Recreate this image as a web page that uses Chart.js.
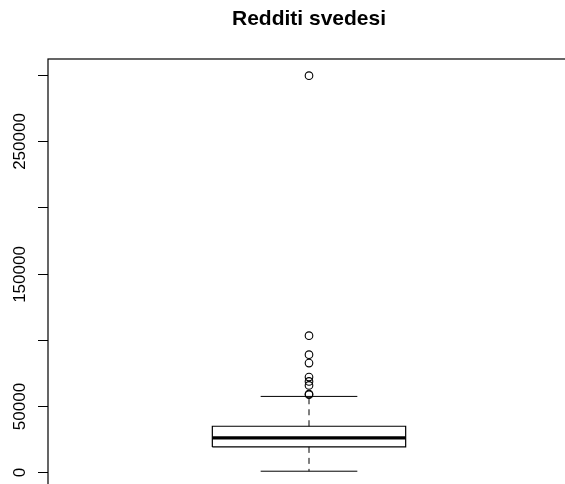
<!DOCTYPE html>
<html>
<head>
<meta charset="utf-8">
<title>Redditi svedesi</title>
<script src="https://cdn.jsdelivr.net/npm/chart.js@4.4.1/dist/chart.umd.min.js"></script>
<style>
  html, body { margin: 0; padding: 0; background: #fff; overflow: hidden; }
  #wrap { width: 565px; height: 484px; overflow: hidden; position: relative; }
  canvas { display: block; }
</style>
</head>
<body>
<div id="wrap"><canvas id="c" width="600" height="520"></canvas></div>
<script>
// Five-number summary of the incomes (whisker ends, quartiles, median)
const chartTitle = 'Redditi svedesi';
const lowerWhisker = 680;
const quartile1 = 19050;
const median = 25800;
const quartile3 = 34630;
const upperWhisker = 57170;
// Points beyond the upper whisker
const outliers = [299400, 103060, 88700, 82340, 71760, 68500, 65480, 59000, 58500];
// Y axis ticks and the labels printed next to them
const yTickValues = [0, 50000, 100000, 150000, 200000, 250000, 300000];
const yTickLabels = ['0', '50000', '', '150000', '', '250000', ''];

const center = 1;
const boxHalf = 0.2;
const capHalf = 0.1;

const boxOutline = [
  { x: center - boxHalf, y: quartile1 },
  { x: center + boxHalf, y: quartile1 },
  { x: center + boxHalf, y: quartile3 },
  { x: center - boxHalf, y: quartile3 },
  { x: center - boxHalf, y: quartile1 }
];
const medianLine = [
  { x: center - boxHalf, y: median },
  { x: center + boxHalf, y: median }
];
const upperWhiskerLine = [{ x: center, y: quartile3 }, { x: center, y: upperWhisker }];
const lowerWhiskerLine = [{ x: center, y: quartile1 }, { x: center, y: lowerWhisker }];
const upperCap = [{ x: center - capHalf, y: upperWhisker }, { x: center + capHalf, y: upperWhisker }];
const lowerCap = [{ x: center - capHalf, y: lowerWhisker }, { x: center + capHalf, y: lowerWhisker }];
const outlierPoints = outliers.map(v => ({ x: center, y: v }));

const FONT = '"Liberation Sans", Arial, Helvetica, sans-serif';

function lineSet(data, width, dash) {
  return {
    type: 'line', data, showLine: true, fill: false,
    borderColor: '#000', borderWidth: width, borderDash: dash || [],
    pointRadius: 0, pointHoverRadius: 0, tension: 0,
    borderCapStyle: 'butt', borderJoinStyle: 'miter'
  };
}

// Frame, left axis with rotated labels, and the title
const decorations = {
  id: 'decorations',
  afterDatasetsDraw(chart) {
    const { ctx, chartArea: a, scales } = chart;
    const y = scales.y;
    ctx.save();
    ctx.strokeStyle = '#000';
    ctx.lineWidth = 1.2;
    ctx.strokeRect(a.left, a.top, a.right - a.left, a.bottom - a.top);

    ctx.lineWidth = 1;
    ctx.fillStyle = '#000';
    ctx.font = '17px ' + FONT;
    yTickValues.forEach((v, i) => {
      const py = Math.round(y.getPixelForValue(v)) + 0.5;
      ctx.beginPath();
      ctx.moveTo(a.left - 10, py);
      ctx.lineTo(a.left, py);
      ctx.stroke();
      const label = yTickLabels[i];
      if (label) {
        ctx.save();
        ctx.translate(a.left - 23.5, py);
        ctx.rotate(-Math.PI / 2);
        ctx.textAlign = 'center';
        ctx.textBaseline = 'alphabetic';
        ctx.fillText(label, 0, 0);
        ctx.restore();
      }
    });

    ctx.font = 'bold 21px ' + FONT;
    ctx.textAlign = 'center';
    ctx.textBaseline = 'alphabetic';
    ctx.fillText(chartTitle, (a.left + a.right) / 2, 25);
    ctx.restore();
  }
};

new Chart(document.getElementById('c'), {
  type: 'scatter',
  data: {
    datasets: [
      lineSet(upperWhiskerLine, 1, [6, 5]),
      lineSet(lowerWhiskerLine, 1, [6, 5]),
      lineSet(upperCap, 1),
      lineSet(lowerCap, 1),
      lineSet(boxOutline, 1.2),
      lineSet(medianLine, 3.2),
      {
        type: 'scatter', data: outlierPoints,
        pointStyle: 'circle', pointRadius: 3.8, pointBorderWidth: 1.1,
        pointBorderColor: '#000', pointBackgroundColor: 'rgba(0,0,0,0)',
        pointHoverRadius: 3.8
      }
    ]
  },
  options: {
    responsive: false,
    animation: false,
    devicePixelRatio: 1,
    layout: { padding: { left: 48, top: 59, right: 30, bottom: 32 } },
    plugins: { legend: { display: false }, tooltip: { enabled: false }, title: { display: false } },
    events: [],
    scales: {
      x: { type: 'linear', display: false, min: 0.46, max: 1.54 },
      y: { type: 'linear', display: false, min: -12000, max: 312000 }
    }
  },
  plugins: [decorations]
});
</script>
</body>
</html>
